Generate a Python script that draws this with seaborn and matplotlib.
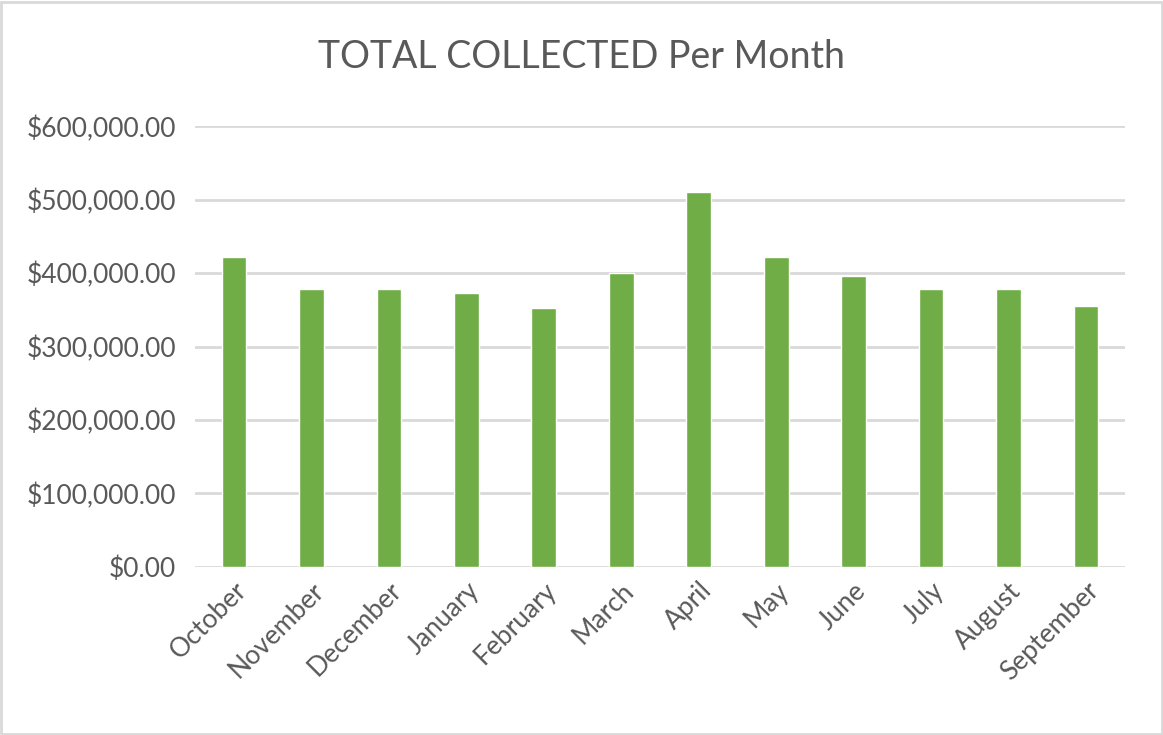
import matplotlib
matplotlib.use('Agg')
import matplotlib.pyplot as plt
import seaborn as sns
import pandas as pd
from matplotlib.ticker import FuncFormatter

# Monthly totals
months = ['October', 'November', 'December', 'January', 'February', 'March',
          'April', 'May', 'June', 'July', 'August', 'September']
collected = [422000, 378000, 378000, 373000, 353000, 400000,
             511000, 422000, 395500, 378000, 378000, 355000]
y_ticks = [0, 100000, 200000, 300000, 400000, 500000, 600000]

df = pd.DataFrame({'month': months, 'collected': collected})

sns.set_theme(style='white')
plt.rcParams['font.family'] = ['Lato', 'DejaVu Sans']
text_color = '#595959'

fig = plt.figure(figsize=(11.63, 7.35), dpi=100)
ax = fig.add_axes([0.168, 0.229, 0.799, 0.599])

sns.barplot(data=df, x='month', y='collected', color='#70AD47',
            saturation=1, width=0.32, ax=ax, zorder=3)

ax.set_ylim(0, 600000)
ax.set_xlim(-0.5, 11.5)
ax.set_yticks(y_ticks)
ax.yaxis.set_major_formatter(FuncFormatter(lambda v, p: '${:,.2f}'.format(v)))
ax.grid(axis='y', color='#d9d9d9', linewidth=2, zorder=0)
ax.grid(axis='x', visible=False)
for s in ax.spines.values():
    s.set_visible(False)
ax.set_xlabel('')
ax.set_ylabel('')
ax.tick_params(axis='y', labelsize=19, labelcolor=text_color, length=0, pad=14)
ax.tick_params(axis='x', labelsize=19, labelcolor=text_color, length=0, pad=8)
plt.setp(ax.get_xticklabels(), rotation=45, ha='right', rotation_mode='anchor')

fig.text(0.5, 0.922, 'TOTAL COLLECTED Per Month', ha='center', va='center',
         fontsize=27, color=text_color)

# light frame around the chart area
fig.patches.append(plt.Rectangle((0.001, 0.001), 0.998, 0.996, transform=fig.transFigure,
                                 fill=False, edgecolor='#d9d9d9', linewidth=2))

fig.savefig('out.png', dpi=100)
